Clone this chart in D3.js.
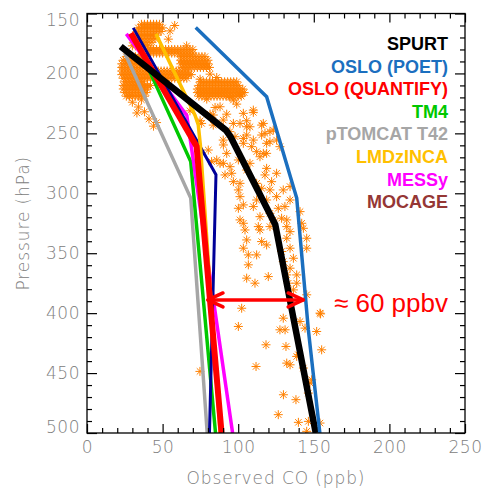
<!DOCTYPE html>
<html>
<head>
<meta charset="utf-8">
<script src="https://cdn.jsdelivr.net/npm/d3@7"></script>
<style>
  body { margin: 0; background: #fff; }
  svg { display: block; }
  .tick text { font-family: "DejaVu Sans", sans-serif; font-weight: 300; font-size: 17px; fill: #808080; letter-spacing: 0.5px; }
  .tick line { stroke: #000; stroke-width: 1.2; }
</style>
</head>
<body>
<svg id="Viz"></svg>
<script>
width = 484,
height = 489;

// axis ticks
var xTicks = [0, 50, 100, 150, 200, 250];
var yTicks = [150, 200, 250, 300, 350, 400, 450, 500];

// model / obs profiles: CO (ppb) against pressure (hPa)
var seriesNames = ["pTOMCAT T42", "TM4", "MESSy", "MOCAGE", "LMDzINCA", "OSLO (QUANTIFY)", "SPURT", "OSLO (POET)"];
var seriesColors = ["#a6a6a6", "#00c800", "#ff00ff", "#000099", "#ffc000", "#ff0000", "#000000", "#1b6fbf"];
var seriesWidths = [3.5, 3.5, 3.5, 3, 3.5, 6, 6.5, 3.5];

var coTomcat = [25, 68.6, 79.5];
var pTomcat  = [183, 304, 500];
var coTm4 = [32, 68.6, 85];
var pTm4  = [172, 273.6, 500];
var coMessy = [26, 66, 70, 96.3];
var pMessy  = [167, 235, 270, 500];
var coMocage = [30.6, 85.3, 81];
var pMocage  = [162, 284.5, 500];
var coLmdz = [45.6, 71.5, 73.6, 75, 88];
var pLmdz  = [167, 235, 243, 260, 500];
var coQuant = [29, 72.5, 89];
var pQuant  = [166.5, 261, 500];
var coSpurt = [22.3, 92, 95, 124.5, 151.3];
var pSpurt  = [177.5, 247.5, 253, 326, 500];
var coPoet = [71.9, 118.8, 138.7, 146.4, 154];
var pPoet  = [161.7, 219.5, 304, 414, 500];

// legend (top to bottom)
var legendNames  = ["SPURT", "OSLO (POET)", "OSLO (QUANTIFY)", "TM4", "pTOMCAT T42", "LMDzINCA", "MESSy", "MOCAGE"];
var legendColors = ["#000000", "#1b6fbf", "#ff0000", "#00c800", "#a6a6a6", "#ffc000", "#ff00ff", "#953735"];

// observed CO, dense flight-level rows: [pressure, [CO values]]
var obsRows = [
  [159, [36, 38, 40, 42, 44, 46, 48]],
  [162, [34, 36, 38, 40, 42, 44, 46, 48, 50]],
  [165, [33, 35, 37, 39, 41, 43, 45, 47, 49]],
  [168, [32, 34, 36, 38, 40, 42, 44, 46]],
  [171, [31, 33, 35, 37, 39, 41, 43, 45]],
  [174, [31, 33, 35, 37, 39, 41, 43]],
  [177, [30, 32, 34, 36, 38, 40]],
  [180, [40, 42, 44, 46, 48, 50, 52, 54, 56, 58, 60, 62, 64, 66, 68, 70]],
  [183, [40, 42, 44, 46, 48, 50, 52, 54, 56, 58, 60, 62, 64, 66, 68, 70]],
  [186, [26, 28, 30, 32, 34, 36, 38, 62, 64, 66, 68, 70, 72, 74, 76, 78]],
  [189, [24, 26, 28, 30, 32, 34, 36, 38, 40, 62, 64, 66, 68, 70, 72, 74, 76, 78, 80]],
  [192, [23, 25, 27, 29, 31, 33, 35, 37, 39, 41, 62, 64, 66, 68, 70, 72, 74, 76, 78, 80]],
  [195, [23, 25, 27, 29, 31, 33, 35, 37, 63, 65, 67, 69, 71, 73, 75, 77, 79, 81]],
  [198, [23, 25, 27, 29, 31, 33, 35, 37, 39, 41, 43, 45, 47, 49, 51, 53, 55, 57, 59, 61, 63, 65, 67]],
  [201, [23, 25, 27, 29, 31, 33, 35, 37, 39, 41, 43, 45, 47, 49, 51, 53, 55, 57, 59, 61, 63, 65, 67, 69]],
  [204, [24, 26, 28, 30, 32, 34, 36, 38, 40, 42, 44, 46, 48, 50, 52, 54, 56, 58, 60, 62, 64, 66]],
  [207, [25, 27, 29, 31, 33, 35, 37, 75, 77, 79, 81, 83, 85, 87, 89, 91, 93, 95, 97, 99]],
  [210, [24, 26, 28, 30, 32, 34, 36, 38, 40, 42, 74, 76, 78, 80, 82, 84, 86, 88, 90, 92, 94, 96, 98, 100]],
  [213, [24, 26, 28, 30, 32, 34, 36, 38, 40, 73, 75, 77, 79, 81, 83, 85, 87, 89, 91, 93, 95, 97, 99, 101, 103]],
  [216, [25, 27, 29, 31, 33, 35, 37, 39, 73, 75, 77, 79, 81, 83, 85, 87, 89, 91, 93, 95, 97, 99, 101, 103, 104]],
  [219, [26, 28, 30, 32, 34, 36, 38, 74, 76, 78, 80, 82, 84, 86, 88, 90, 92, 94, 96, 98, 100, 102]]
];

// observed CO, scattered points: [CO, pressure]
var obsPoints = [
  [54.9, 164.5], [53.8, 171.4], [58, 160], [65.9, 177], [85.8, 203.4], [74.8, 204.8], [81.4, 200.6],
  [110, 232.5], [105.6, 239.5], [99, 225.6], [92.4, 234], [84.7, 228.4], [79.2, 221.4], [81.4, 234],
  [74.8, 239.5], [94.6, 220], [101.2, 217.3], [68.1, 231.2],
  [30, 224], [34, 228], [38, 232], [36, 222], [41, 238], [44, 244], [46, 241], [33, 233], [28, 219],
  [88, 227.8], [96.8, 222.2], [103.4, 233.3], [110, 230.6], [116.6, 241.7], [121, 248.6], [107.8, 244.5],
  [101.2, 241.7], [90.1, 238.9], [110, 255.6], [118.8, 258.3], [125.4, 255.6], [83.5, 234.7], [94.5, 248.6],
  [103.4, 254.2], [90.1, 255.6],
  [75.8, 241.7], [83.5, 243.1], [96.8, 241.7], [105.6, 244.5], [115.5, 243.1], [117.7, 250], [105.6, 251.4],
  [97.9, 252.8], [90.2, 259.7], [80.2, 263.9], [92.4, 266.7], [82.4, 273.6], [90.2, 275], [100.1, 272.2],
  [115.5, 251.4], [121, 257], [123.2, 247.2], [127.6, 261.1], [118.8, 266.7], [114.4, 269.5], [107.8, 275],
  [105.6, 280.6], [95.7, 283.3], [91.3, 284.7], [96.8, 290.3], [101.2, 291.7], [100.1, 297.2], [101.2, 302.8],
  [100.1, 312.5], [101.2, 322.2], [103.4, 309.7], [118.8, 279.2], [117.7, 284.7], [122.1, 290.3], [125.4, 283.3],
  [121, 297.2], [118.8, 305.6], [112.2, 305.6], [110, 311.1], [114.4, 319.5], [121, 316.7], [126.5, 312.5],
  [130.9, 311.1], [132.1, 322.2], [134.3, 305.6], [134.3, 294.4], [129.8, 297.2], [140.9, 315.3], [142, 325],
  [113.3, 327.8], [103.4, 325], [128.7, 320.8], [116.6, 266.7], [112.2, 265.3], [108.9, 261.1], [103.4, 258.3],
  [88, 275], [85.8, 272.2], [94.6, 277.8], [112.2, 291.7], [115.5, 295.8], [125.4, 302.8], [123.2, 322.2],
  [104.5, 330.6], [114.4, 330.6], [121, 327.8], [132.1, 327.8], [105.6, 338.9], [103.4, 345.8], [115.5, 340.3],
  [118.8, 343.1], [106.7, 351.4], [112.2, 351.4], [106.7, 359.7], [132.1, 337.5], [134.3, 345.8], [136.5, 354.2],
  [134.3, 362.5], [138.7, 368.1], [129.8, 357], [145.3, 337.5], [145.3, 345.8], [143.1, 329.2], [105.6, 370.8],
  [111.1, 375], [119.9, 369.5], [133.1, 375], [138.7, 375], [145.3, 384.7], [102.3, 395.9], [154.1, 400],
  [100.1, 411.1], [127.6, 413.9], [129.8, 404.2], [140.9, 407], [134.3, 332], [128.7, 348.6], [132.1, 368.1],
  [136.5, 380.6],
  [118.4, 426.4], [111.8, 444.5], [131, 413.9], [131.6, 427.8], [132.1, 441.7], [129.9, 468.1], [138.2, 472.2],
  [126.5, 484.7], [139.8, 491.1], [145.3, 498.6], [151.9, 415.3], [155.2, 430.6], [154.5, 400.6], [144.2, 412.5],
  [138.7, 436.1], [147.5, 458.3], [154.1, 491.7], [74.7, 448.6], [143.1, 445.8], [148.6, 455.6], [146.4, 466.7],
  [139.8, 434.7], [146.4, 490.3], [134.3, 443.1]
];

// annotation arrow
var arrowP = 389;
var arrowCo = [80, 143];
var arrowText = "\u2248 60 ppbv";

function first() {
  var svg = d3.select("#Viz").attr("width", width).attr("height", height);

  var x = d3.scaleLinear().domain([0, 250]).range([87, 465]);
  var y = d3.scaleLinear().domain([150, 500]).range([13.5, 433]);

  svg.append("defs").append("clipPath").attr("id", "plotclip")
    .append("rect")
      .attr("x", x(0)).attr("y", y(150))
      .attr("width", x(250) - x(0)).attr("height", y(500) - y(150));

  // observations as asterisks
  var obs = [];
  obsRows.forEach(function(r) {
    r[1].forEach(function(c) { obs.push([c, r[0]]); });
  });
  obs = obs.concat(obsPoints);

  var star = "M-4.5,0H4.5M0,-4.5V4.5M-3.2,-3.2L3.2,3.2M-3.2,3.2L3.2,-3.2";
  svg.append("g")
      .attr("clip-path", "url(#plotclip)")
    .selectAll("path")
    .data(obs)
    .enter()
    .append("path")
      .attr("transform", function(d) { return "translate(" + x(d[0]) + "," + y(d[1]) + ")"; })
      .attr("d", star)
      .style("stroke", "#ff8000")
      .style("stroke-width", 1)
      .style("fill", "none");

  // profiles
  var profiles = [
    [coTomcat, pTomcat], [coTm4, pTm4], [coMessy, pMessy], [coMocage, pMocage],
    [coLmdz, pLmdz], [coQuant, pQuant], [coSpurt, pSpurt], [coPoet, pPoet]
  ];
  var line = d3.line().x(function(d) { return x(d[0]); }).y(function(d) { return y(d[1]); });

  svg.append("g")
      .attr("clip-path", "url(#plotclip)")
    .selectAll("path")
    .data(profiles)
    .enter()
    .append("path")
      .attr("d", function(d) { return line(d3.zip(d[0], d[1])); })
      .attr("fill", "none")
      .attr("stroke", function(d, i) { return seriesColors[i]; })
      .attr("stroke-width", function(d, i) { return seriesWidths[i]; })
      .attr("stroke-linejoin", "miter");

  // arrow
  var ay = y(arrowP), ax1 = x(arrowCo[0]), ax2 = x(arrowCo[1]);
  var arrow = svg.append("g").style("stroke", "#ff0000").style("stroke-width", 3.5).style("fill", "none")
    .style("stroke-linecap", "round").style("stroke-linejoin", "round");
  arrow.append("line").attr("x1", ax1).attr("y1", ay).attr("x2", ax2).attr("y2", ay);
  arrow.append("path").attr("d", "M" + (ax1 + 15) + "," + (ay - 7) + "L" + ax1 + "," + ay + "L" + (ax1 + 15) + "," + (ay + 7));
  arrow.append("path").attr("d", "M" + (ax2 - 15) + "," + (ay - 7) + "L" + ax2 + "," + ay + "L" + (ax2 - 15) + "," + (ay + 7));

  svg.append("text")
      .attr("x", 448).attr("y", 312)
      .attr("text-anchor", "end")
      .style("font-family", "'Liberation Sans', Arial, sans-serif")
      .style("font-size", "26px")
      .style("fill", "#ff0000")
      .text(arrowText);

  // axes, ticks pointing inward
  var minorX = d3.range(0, 251, 10).filter(function(v) { return v % 50 != 0; });
  var minorY = d3.range(150, 501, 10).filter(function(v) { return v % 50 != 0; });

  svg.append("g").attr("transform", "translate(0," + y(500) + ")")
    .call(d3.axisBottom(x).tickValues(xTicks).tickSizeInner(-9).tickSizeOuter(0).tickPadding(8).tickFormat(d3.format("d")));
  svg.append("g").attr("transform", "translate(0," + y(500) + ")")
    .call(d3.axisBottom(x).tickValues(minorX).tickSizeInner(-5).tickSizeOuter(0).tickFormat(""));
  svg.append("g").attr("transform", "translate(0," + y(150) + ")")
    .call(d3.axisTop(x).tickValues(xTicks).tickSizeInner(-9).tickSizeOuter(0).tickFormat(""));
  svg.append("g").attr("transform", "translate(0," + y(150) + ")")
    .call(d3.axisTop(x).tickValues(minorX).tickSizeInner(-5).tickSizeOuter(0).tickFormat(""));

  var yAxisG = svg.append("g").attr("transform", "translate(" + x(0) + ",0)")
    .call(d3.axisLeft(y).tickValues(yTicks).tickSizeInner(-10).tickSizeOuter(0).tickPadding(7).tickFormat(d3.format("d")));
  svg.append("g").attr("transform", "translate(" + x(0) + ",0)")
    .call(d3.axisLeft(y).tickValues(minorY).tickSizeInner(-5).tickSizeOuter(0).tickFormat(""));
  svg.append("g").attr("transform", "translate(" + x(250) + ",0)")
    .call(d3.axisRight(y).tickValues(yTicks).tickSizeInner(-10).tickSizeOuter(0).tickFormat(""));
  svg.append("g").attr("transform", "translate(" + x(250) + ",0)")
    .call(d3.axisRight(y).tickValues(minorY).tickSizeInner(-5).tickSizeOuter(0).tickFormat(""));

  // end labels pulled inside the axis range
  yAxisG.selectAll(".tick text").attr("y", function(d) { return d == 150 ? 7 : (d == 500 ? -6 : 0); });

  svg.selectAll(".domain").remove();

  svg.append("rect")
      .attr("x", x(0)).attr("y", y(150))
      .attr("width", x(250) - x(0)).attr("height", y(500) - y(150))
      .style("fill", "none").style("stroke", "#000").style("stroke-width", 1.3);

  // axis titles
  svg.append("text")
      .attr("x", (x(0) + x(250)) / 2).attr("y", 484)
      .attr("text-anchor", "middle")
      .style("font-family", "'DejaVu Sans', sans-serif").style("font-weight", 300)
      .style("font-size", "17px").style("fill", "#808080").style("letter-spacing", "0.9px")
      .text("Observed CO (ppb)");

  svg.append("text")
      .attr("transform", "translate(29," + ((y(150) + y(500)) / 2) + ") rotate(-90)")
      .attr("text-anchor", "middle")
      .style("font-family", "'DejaVu Sans', sans-serif").style("font-weight", 300)
      .style("font-size", "17px").style("fill", "#808080").style("letter-spacing", "0.9px")
      .text("Pressure (hPa)");

  // legend
  svg.append("g")
    .selectAll("text")
    .data(legendNames)
    .enter()
    .append("text")
      .attr("x", 448)
      .attr("y", function(d, i) { return 50 + i * 22.6; })
      .attr("text-anchor", "end")
      .style("font-family", "'Liberation Sans', Arial, sans-serif")
      .style("font-weight", "bold")
      .style("font-size", "18px")
      .style("fill", function(d, i) { return legendColors[i]; })
      .text(function(d) { return d; });
}

document.addEventListener('DOMContentLoaded', () => {
  first();
});
</script>
</body>
</html>
